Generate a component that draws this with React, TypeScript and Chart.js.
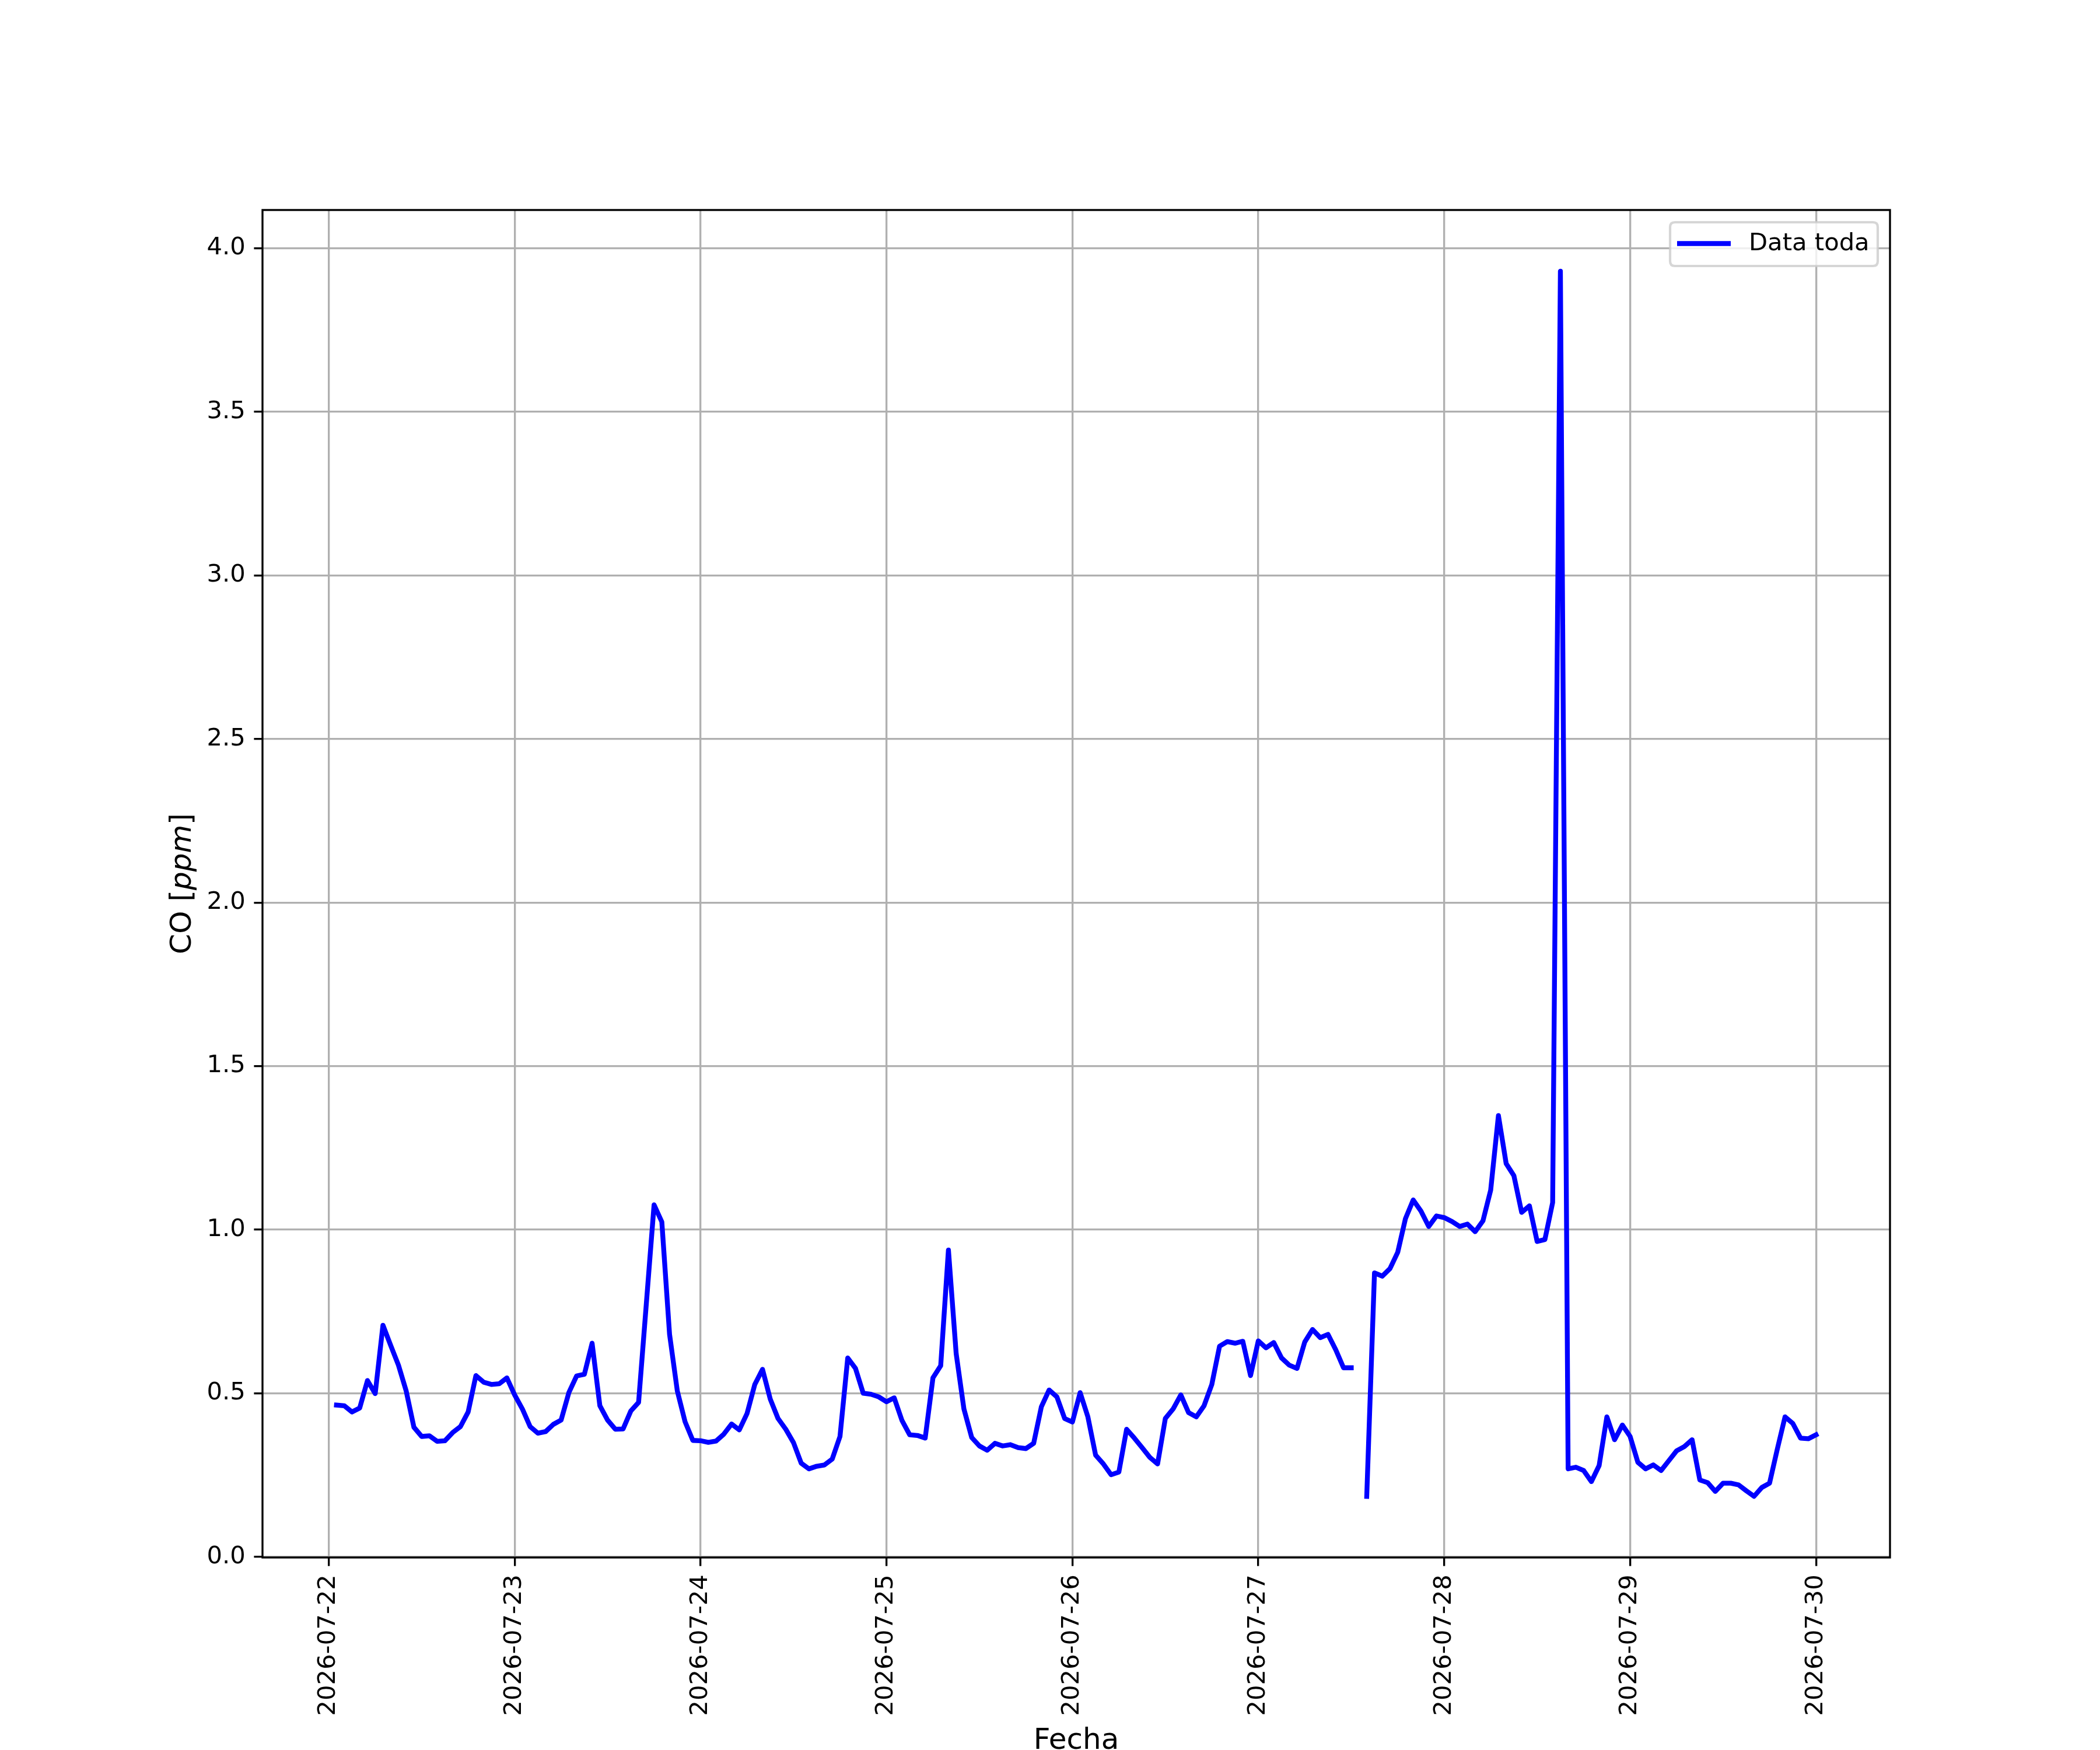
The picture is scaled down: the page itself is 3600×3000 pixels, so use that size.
import React, { useEffect, useRef } from "react";
import { Chart, registerables } from "chart.js";

Chart.register(...registerables);

// ---- data (hourly CO readings, index = hour of day 0..23) ----
const dayLabels = [
  "2026-07-22", "2026-07-23", "2026-07-24", "2026-07-25", "2026-07-26",
  "2026-07-27", "2026-07-28", "2026-07-29", "2026-07-30",
];

const co_0722 = [null, 0.464, 0.462, 0.443, 0.455, 0.539, 0.499, 0.708, 0.646, 0.586, 0.507, 0.396,
  0.368, 0.370, 0.353, 0.355, 0.380, 0.398, 0.443, 0.554, 0.534, 0.527, 0.529, 0.547];
const co_0723 = [0.495, 0.452, 0.398, 0.378, 0.383, 0.405, 0.418, 0.502, 0.553, 0.558, 0.653, 0.462,
  0.418, 0.390, 0.391, 0.446, 0.472, 0.774, 1.076, 1.024, 0.680, 0.507, 0.413, 0.356];
const co_0724 = [0.355, 0.350, 0.354, 0.375, 0.406, 0.388, 0.438, 0.527, 0.573, 0.482, 0.423, 0.390,
  0.349, 0.286, 0.269, 0.277, 0.281, 0.299, 0.368, 0.608, 0.576, 0.500, 0.497, 0.489];
const co_0725 = [0.474, 0.486, 0.417, 0.373, 0.371, 0.363, 0.547, 0.584, 0.938, 0.621, 0.452, 0.365,
  0.339, 0.326, 0.347, 0.339, 0.343, 0.334, 0.331, 0.347, 0.459, 0.510, 0.489, 0.423];
const co_0726 = [0.412, 0.502, 0.428, 0.311, 0.284, 0.251, 0.259, 0.390, 0.363, 0.334, 0.304, 0.284,
  0.423, 0.452, 0.495, 0.441, 0.428, 0.462, 0.527, 0.644, 0.658, 0.653, 0.659, 0.554];
const co_0727 = [0.660, 0.639, 0.655, 0.608, 0.586, 0.576, 0.657, 0.695, 0.670, 0.680, 0.633, 0.578,
  0.578, null, 0.185, 0.868, 0.858, 0.881, 0.931, 1.034, 1.091, 1.057, 1.010, 1.042];
const co_0728 = [1.037, 1.025, 1.010, 1.017, 0.994, 1.027, 1.121, 1.349, 1.202, 1.165, 1.053, 1.073,
  0.964, 0.970, 1.083, 3.930, 0.269, 0.274, 0.264, 0.230, 0.279, 0.428, 0.358, 0.403];
const co_0729 = [0.368, 0.289, 0.269, 0.281, 0.264, 0.294, 0.324, 0.337, 0.358, 0.235, 0.227, 0.200,
  0.225, 0.225, 0.220, 0.202, 0.185, 0.212, 0.225, 0.329, 0.428, 0.408, 0.363, 0.361];
const co_0730 = [0.373];

const dailySeries = [co_0722, co_0723, co_0724, co_0725, co_0726, co_0727, co_0728, co_0729, co_0730];

const yTicks = [0.0, 0.5, 1.0, 1.5, 2.0, 2.5, 3.0, 3.5, 4.0];
const seriesLabel = "Data toda";
const xTitle = "Fecha";

// ---- styling constants ----
const W = 3600;
const H = 3000;
const FONT = "'DejaVu Sans', 'Liberation Sans', sans-serif";
const TICK_PX = 41.7;
const LABEL_PX = 50;
const LW_AX = 3.33;
const LW_DATA = 8.33;
const BLUE = "#0000ff";

const decorPlugin = {
  id: "decor",
  afterDraw(chart: any) {
    const ctx = chart.ctx as CanvasRenderingContext2D;
    const a = chart.chartArea;
    ctx.save();

    // frame (spines)
    ctx.strokeStyle = "#000";
    ctx.lineWidth = LW_AX;
    ctx.lineJoin = "miter";
    ctx.strokeRect(a.left, a.top, a.right - a.left, a.bottom - a.top);

    // legend
    const bw = 356;
    const bh = 75;
    const bx = a.right - 21 - bw;
    const by = a.top + 21;
    const r = 8.3;
    ctx.beginPath();
    ctx.moveTo(bx + r, by);
    ctx.lineTo(bx + bw - r, by);
    ctx.quadraticCurveTo(bx + bw, by, bx + bw, by + r);
    ctx.lineTo(bx + bw, by + bh - r);
    ctx.quadraticCurveTo(bx + bw, by + bh, bx + bw - r, by + bh);
    ctx.lineTo(bx + r, by + bh);
    ctx.quadraticCurveTo(bx, by + bh, bx, by + bh - r);
    ctx.lineTo(bx, by + r);
    ctx.quadraticCurveTo(bx, by, bx + r, by);
    ctx.closePath();
    ctx.fillStyle = "rgba(255,255,255,0.8)";
    ctx.fill();
    ctx.strokeStyle = "rgba(204,204,204,0.8)";
    ctx.lineWidth = 4.17;
    ctx.stroke();

    const cy = by + bh / 2 - 1;
    ctx.beginPath();
    ctx.moveTo(bx + 12, cy);
    ctx.lineTo(bx + 104, cy);
    ctx.strokeStyle = BLUE;
    ctx.lineWidth = LW_DATA;
    ctx.lineCap = "butt";
    ctx.stroke();

    ctx.fillStyle = "#000";
    ctx.font = `${TICK_PX}px ${FONT}`;
    ctx.textAlign = "left";
    ctx.textBaseline = "middle";
    ctx.fillText(seriesLabel, bx + 135, cy + 1);

    // x title
    ctx.font = `${LABEL_PX}px ${FONT}`;
    ctx.textAlign = "center";
    ctx.textBaseline = "alphabetic";
    ctx.fillText(xTitle, (a.left + a.right) / 2, 2998);

    // y title: "CO [" + italic "ppm" + "]"
    const parts = [
      { t: "CO [", f: `${LABEL_PX}px ${FONT}` },
      { t: "ppm", f: `italic ${LABEL_PX}px ${FONT}` },
      { t: "]", f: `${LABEL_PX}px ${FONT}` },
    ];
    let total = 0;
    const widths = parts.map((p) => {
      ctx.font = p.f;
      const w = ctx.measureText(p.t).width;
      total += w;
      return w;
    });
    ctx.translate(327, (a.top + a.bottom) / 2);
    ctx.rotate(-Math.PI / 2);
    ctx.textAlign = "left";
    ctx.textBaseline = "alphabetic";
    let px = -total / 2;
    parts.forEach((p, i) => {
      ctx.font = p.f;
      ctx.fillText(p.t, px, 0);
      px += widths[i];
    });

    ctx.restore();
  },
};

export default function App() {
  const ref = useRef<HTMLCanvasElement | null>(null);

  useEffect(() => {
    if (!ref.current) return;
    const points = dailySeries.flatMap((arr, d) =>
      arr.map((v, h) => ({ x: d * 24 + h, y: v }))
    );

    const chart = new Chart(ref.current, {
      type: "line",
      data: {
        datasets: [
          {
            label: seriesLabel,
            data: points as any,
            borderColor: BLUE,
            backgroundColor: BLUE,
            borderWidth: LW_DATA,
            pointRadius: 0,
            tension: 0,
            spanGaps: false,
            borderJoinStyle: "round",
            borderCapStyle: "square",
            fill: false,
          },
        ],
      },
      options: {
        animation: false,
        responsive: false,
        devicePixelRatio: 1,
        events: [],
        layout: { padding: { left: 0, right: 360, top: 360, bottom: 0 } },
        plugins: {
          legend: { display: false },
          tooltip: { enabled: false },
          title: { display: false },
        },
        scales: {
          x: {
            type: "linear",
            min: -8.55,
            max: 201.55,
            afterFit: (s: any) => {
              s.height = 330;
            },
            afterBuildTicks: (s: any) => {
              s.ticks = dayLabels.map((_, i) => ({ value: i * 24 }));
            },
            ticks: {
              autoSkip: false,
              minRotation: 90,
              maxRotation: 90,
              padding: 14.6,
              color: "#000",
              font: { family: FONT, size: TICK_PX },
              callback: (v: any) => dayLabels[Math.round(Number(v) / 24)],
            },
            grid: {
              color: "#b0b0b0",
              lineWidth: LW_AX,
              drawTicks: true,
              tickLength: 14.6,
              tickColor: "#000",
              tickWidth: LW_AX,
            },
            border: { display: false },
          },
          y: {
            type: "linear",
            min: -0.002,
            max: 4.117,
            afterFit: (s: any) => {
              s.width = 450;
            },
            afterBuildTicks: (s: any) => {
              s.ticks = yTicks.map((v) => ({ value: v }));
            },
            ticks: {
              padding: 14.6,
              color: "#000",
              font: { family: FONT, size: TICK_PX },
              callback: (v: any) => Number(v).toFixed(1),
            },
            grid: {
              color: "#b0b0b0",
              lineWidth: LW_AX,
              drawTicks: true,
              tickLength: 14.6,
              tickColor: "#000",
              tickWidth: LW_AX,
            },
            border: { display: false },
          },
        },
      },
      plugins: [decorPlugin],
    });
    return () => chart.destroy();
  }, []);

  return (
    <div style={{ position: "absolute", left: 0, top: 0, width: W, height: H, background: "#fff" }}>
      <canvas ref={ref} width={W} height={H} style={{ width: W, height: H, display: "block" }} />
    </div>
  );
}
